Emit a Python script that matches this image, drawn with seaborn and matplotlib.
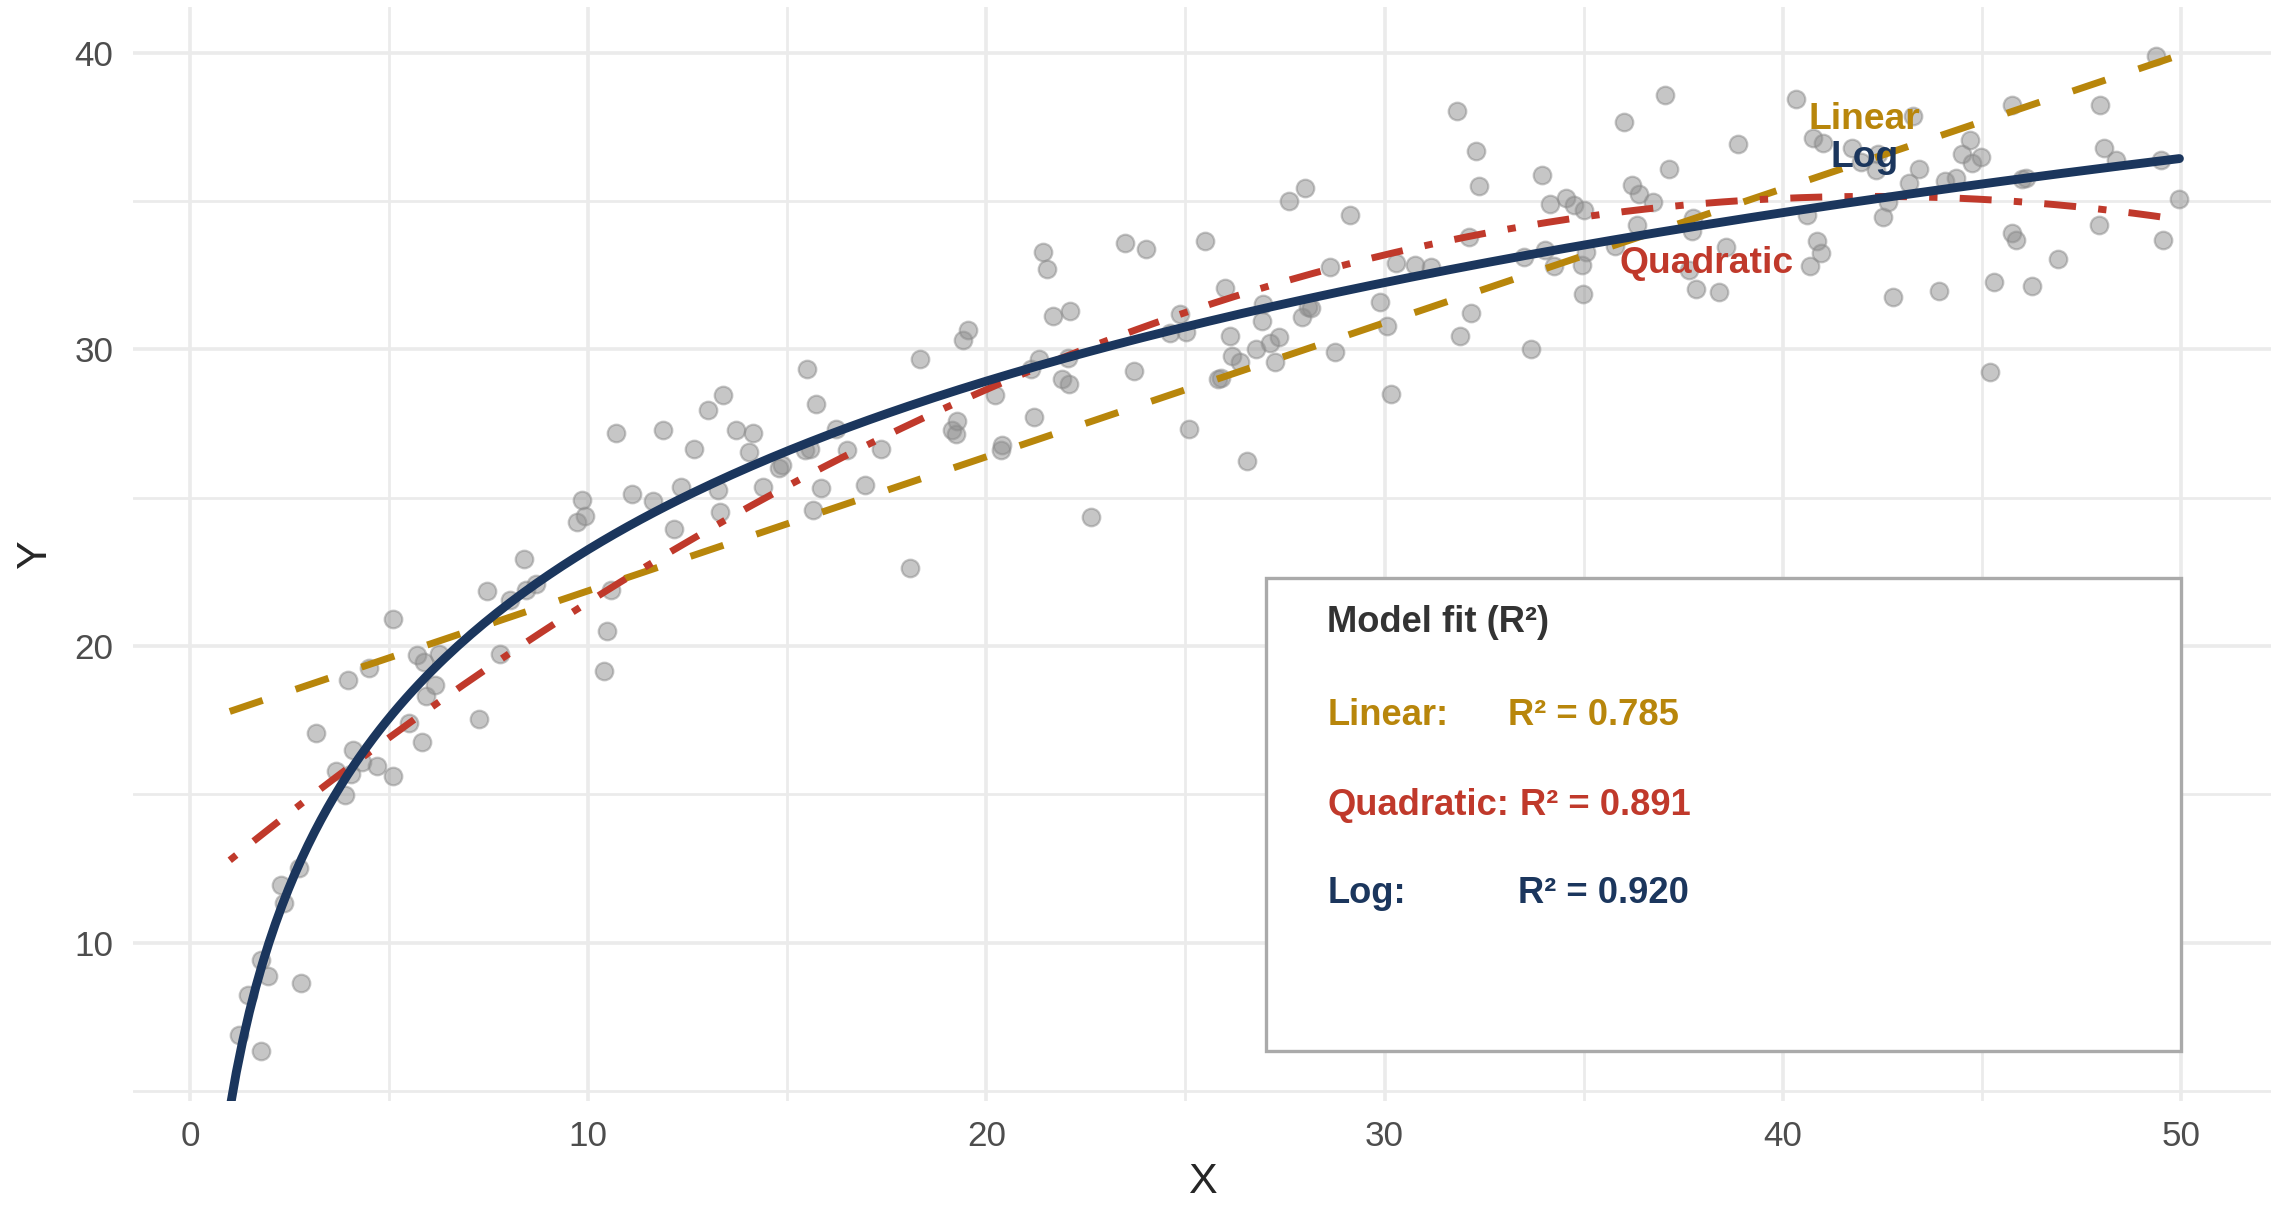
import numpy as np
import pandas as pd
import matplotlib
matplotlib.use("Agg")
import matplotlib.pyplot as plt
import seaborn as sns
from matplotlib.patches import Rectangle

# scatter points
x_vals = [1.24, 1.45, 1.78, 1.78, 1.96, 2.29, 2.36, 2.73, 2.80, 3.16,
          3.67, 3.89, 3.96, 4.04, 4.10, 4.33, 4.50, 4.69, 5.09, 5.09,
          5.49, 5.71, 5.82, 5.89, 5.93, 6.15, 6.25, 7.27, 7.45, 7.78,
          8.04, 8.40, 8.44, 8.69, 9.71, 9.85, 9.93, 10.40, 10.47, 10.58,
          10.69, 11.09, 11.64, 11.89, 12.15, 12.33, 12.65, 13.02, 13.27, 13.31,
          13.38, 13.71, 14.04, 14.15, 14.40, 14.80, 14.87, 15.45, 15.49, 15.56,
          15.64, 15.71, 15.85, 16.22, 16.51, 16.95, 17.35, 18.07, 18.33, 19.13,
          19.24, 19.27, 19.42, 19.53, 20.22, 20.36, 20.40, 21.13, 21.20, 21.31,
          21.42, 21.53, 21.67, 21.89, 22.07, 22.11, 22.05, 22.62, 23.49, 23.71,
          24.00, 24.62, 24.87, 25.02, 25.09, 25.49, 25.82, 25.89, 26.00, 26.11,
          26.18, 26.36, 26.55, 26.76, 26.91, 26.95, 27.13, 27.24, 27.35, 27.60,
          27.93, 28.00, 28.07, 28.15, 28.62, 28.76, 29.13, 29.89, 30.07, 30.15,
          30.29, 30.76, 31.16, 31.82, 31.89, 32.11, 32.18, 32.29, 32.36, 33.49,
          33.67, 33.96, 34.04, 34.15, 34.25, 34.55, 34.76, 34.95, 34.98, 35.02,
          35.05, 35.78, 36.00, 36.22, 36.33, 36.40, 36.73, 37.05, 37.13, 37.64,
          37.71, 37.75, 37.82, 38.40, 38.58, 38.87, 40.33, 40.62, 40.76, 40.69,
          40.87, 40.95, 41.02, 41.75, 41.96, 42.33, 42.40, 42.51, 42.65, 42.76,
          43.16, 43.27, 43.42, 43.93, 44.07, 44.36, 44.51, 44.69, 44.76, 44.98,
          45.20, 45.31, 45.75, 45.75, 45.85, 46.00, 46.11, 46.25, 46.91, 47.96,
          47.93, 48.07, 48.36, 49.38, 49.49, 49.56, 49.96]
y_vals = [6.90, 8.24, 6.33, 9.40, 8.87, 11.95, 11.32, 12.50, 8.63, 17.05,
          15.77, 14.99, 18.86, 15.68, 16.50, 16.10, 19.25, 15.97, 20.91, 15.63,
          17.40, 19.70, 16.75, 19.45, 18.32, 18.70, 19.74, 17.53, 21.84, 19.74,
          21.55, 22.92, 21.89, 22.09, 24.19, 24.93, 24.39, 19.15, 20.52, 21.89,
          27.18, 25.12, 24.88, 27.28, 23.95, 25.37, 26.64, 27.96, 25.27, 24.53,
          28.45, 27.28, 26.54, 27.18, 25.37, 26.00, 26.10, 26.59, 29.33, 26.64,
          24.58, 28.16, 25.32, 27.32, 26.59, 25.42, 26.64, 22.63, 29.67, 27.28,
          27.13, 27.57, 30.31, 30.65, 28.45, 26.59, 26.79, 29.33, 27.72, 29.67,
          33.29, 32.71, 31.14, 28.99, 28.84, 31.29, 29.72, 24.34, 33.59, 29.28,
          33.39, 30.55, 31.19, 30.60, 27.32, 33.64, 28.99, 29.04, 32.07, 30.46,
          29.77, 29.57, 26.25, 30.02, 30.95, 31.53, 30.21, 29.57, 30.41, 35.00,
          31.09, 35.45, 31.44, 31.39, 32.76, 29.92, 34.52, 31.58, 30.80, 28.50,
          32.90, 32.85, 32.76, 38.04, 30.46, 33.78, 31.24, 36.67, 35.50, 33.10,
          30.02, 35.89, 33.34, 34.91, 32.81, 35.10, 34.86, 32.85, 31.88, 34.71,
          33.29, 33.49, 37.65, 35.55, 34.18, 35.25, 34.96, 38.58, 36.08, 32.66,
          33.98, 34.42, 32.02, 31.93, 33.44, 36.92, 38.43, 34.52, 37.11, 32.81,
          33.64, 33.25, 36.97, 36.77, 36.33, 36.04, 36.57, 34.47, 34.96, 31.78,
          35.60, 37.85, 36.08, 31.97, 35.69, 35.79, 36.57, 37.06, 36.28, 36.48,
          29.23, 32.27, 38.24, 33.93, 33.69, 35.74, 35.79, 32.12, 33.05, 38.24,
          34.18, 36.77, 36.38, 39.90, 36.38, 33.69, 35.06]

model_names = ["Linear", "Quadratic", "Log"]
r2_labels = ["R\u00b2 = 0.785", "R\u00b2 = 0.891", "R\u00b2 = 0.920"]
model_colors = {"Linear": "#B8860B", "Quadratic": "#C0392B", "Log": "#1B365D"}

df = pd.DataFrame({"X": x_vals, "Y": y_vals})

# fitted curves over the X range
grid = np.linspace(1.0, df["X"].max(), 300)
lin = np.polyfit(df["X"], df["Y"], 1)
quad = np.polyfit(df["X"], df["Y"], 2)
logc = np.polyfit(np.log(df["X"]), df["Y"], 1)
fits = pd.DataFrame({
    "X": grid,
    "Linear": np.polyval(lin, grid),
    "Quadratic": np.polyval(quad, grid),
    "Log": np.polyval(logc, np.log(grid)),
})

sns.set_theme(style="whitegrid")
plt.rcParams["font.family"] = ["Liberation Sans", "DejaVu Sans"]

fig, ax = plt.subplots(figsize=(11.355, 6.025), dpi=200)
fig.subplots_adjust(left=133 / 2271, right=1.0, bottom=1 - 1101 / 1205, top=1 - 7 / 1205)

sns.scatterplot(data=df, x="X", y="Y", color="#8f8f8f", alpha=0.5, s=40,
                edgecolor="#8a8a8a", linewidth=0.8, ax=ax, zorder=2)

sns.lineplot(data=fits, x="X", y="Linear", color=model_colors["Linear"], lw=2.5,
             linestyle=(0, (5, 5)), ax=ax, zorder=3)
sns.lineplot(data=fits, x="X", y="Quadratic", color=model_colors["Quadratic"], lw=2.5,
             linestyle=(0, (1.2, 3.2, 4.6, 3.2)), ax=ax, zorder=3)
sns.lineplot(data=fits, x="X", y="Log", color=model_colors["Log"], lw=3.2, ax=ax, zorder=4)

ax.set_xlim(-1.43, 52.26)
ax.set_ylim(4.66, 41.54)
ax.set_xticks([0, 10, 20, 30, 40, 50])
ax.set_yticks([10, 20, 30, 40])
ax.set_xticks([5, 15, 25, 35, 45], minor=True)
ax.set_yticks([5, 15, 25, 35], minor=True)
ax.grid(which="major", color="#ebebeb", lw=1.3)
ax.grid(which="minor", color="#ebebeb", lw=1.0)
ax.set_axisbelow(True)
for sp in ax.spines.values():
    sp.set_visible(False)
ax.tick_params(which="both", length=0, labelsize=12.6, labelcolor="#4d4d4d", pad=7)
ax.set_xlabel("X", fontsize=15.5, labelpad=3)
ax.set_ylabel("Y", fontsize=15.5, labelpad=7)

# direct labels on the lines
ax.text(40.65, 37.75, "Linear", color=model_colors["Linear"], fontsize=13.4,
        fontweight="bold", va="center", ha="left", zorder=5)
ax.text(41.2, 36.48, "Log", color=model_colors["Log"], fontsize=13.4,
        fontweight="bold", va="center", ha="left", zorder=5)
ax.text(35.9, 32.9, "Quadratic", color=model_colors["Quadratic"], fontsize=13.4,
        fontweight="bold", va="center", ha="left", zorder=5)

# R² box
ax.add_patch(Rectangle((27.02, 6.35), 50.0 - 27.02, 22.29 - 6.35, facecolor="white",
                       edgecolor="#aaaaaa", lw=1.2, zorder=6))
ax.text(28.56, 20.78, "Model fit (R\u00b2)", color="#333333", fontsize=13.1,
        fontweight="bold", va="center", ha="left", zorder=7)
row_y = [17.64, 14.62, 11.66]
val_x = [33.1, 33.4, 33.35]
for name, lab, yy, vx in zip(model_names, r2_labels, row_y, val_x):
    ax.text(28.56, yy, name + ":", color=model_colors[name], fontsize=13.1,
            fontweight="bold", va="center", ha="left", zorder=7)
    ax.text(vx, yy, lab, color=model_colors[name], fontsize=13.1,
            fontweight="bold", va="center", ha="left", zorder=7)

fig.savefig("out.png", dpi=200)
